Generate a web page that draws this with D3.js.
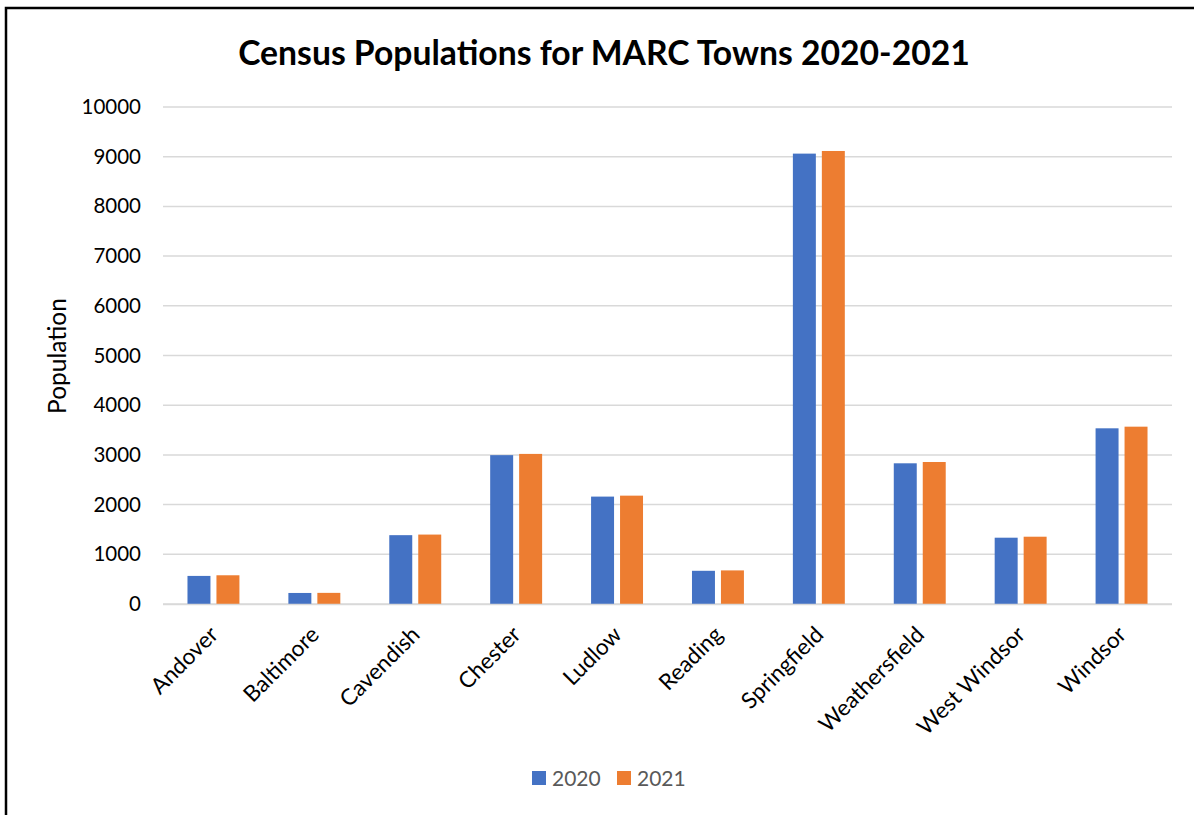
<!DOCTYPE html>
<html>
<head>
<meta charset="utf-8">
<script src="https://cdn.jsdelivr.net/npm/d3@7"></script>
<style>
  body { margin: 0; background: #fff; }
  text { font-family: Lato, "Open Sans", sans-serif; }
</style>
</head>
<body>
<div id="container"></div>
<script>
var towns = ["Andover", "Baltimore", "Cavendish", "Chester", "Ludlow", "Reading",
             "Springfield", "Weathersfield", "West Windsor", "Windsor"];
var pop2020 = [565, 222, 1385, 2995, 2161, 668, 9062, 2831, 1334, 3535];
var pop2021 = [578, 224, 1397, 3020, 2180, 676, 9115, 2857, 1354, 3568];
var years = ["2020", "2021"];
var colors = ["#4472c4", "#ed7d31"];
var yTicks = [0, 1000, 2000, 3000, 4000, 5000, 6000, 7000, 8000, 9000, 10000];

function render() {
	var width = 1194, height = 815;
	var svg = d3.select("#container").append("svg")
		.attr("width", width)
		.attr("height", height);

	// outer frame
	svg.append("rect")
		.attr("x", 6).attr("y", 8)
		.attr("width", 1200).attr("height", 820)
		.attr("fill", "#fff")
		.attr("stroke", "#000")
		.attr("stroke-width", 2.5);

	var x = d3.scaleBand().domain(towns).range([163, 1172]);
	var x1 = d3.scaleBand().domain(years).range([0, x.bandwidth()])
		.paddingInner(0.207).paddingOuter(0.845);
	var y = d3.scaleLinear().domain([0, 10000]).range([604, 107]);

	// gridlines
	svg.append("g")
		.selectAll("line")
		.data(yTicks)
		.enter().append("line")
		.attr("x1", 163).attr("x2", 1172)
		.attr("y1", d => y(d)).attr("y2", d => y(d))
		.attr("stroke", "#d9d9d9")
		.attr("stroke-width", 1.5);

	// y labels
	var yAxis = svg.append("g")
		.attr("transform", "translate(141,0)")
		.call(d3.axisLeft(y).tickValues(yTicks).tickSize(0).tickPadding(0).tickFormat(d3.format("d")));
	yAxis.select(".domain").remove();
	yAxis.selectAll("text")
		.attr("font-size", 20.5)
		.attr("fill", "#000")
		.style("font-family", "Lato, sans-serif");

	// bars
	var series = [pop2020, pop2021];
	var groups = svg.append("g")
		.selectAll("g")
		.data(towns)
		.enter().append("g")
		.attr("transform", d => "translate(" + x(d) + ",0)");

	groups.selectAll("rect")
		.data((d, i) => years.map((yr, j) => ({ yr: yr, v: series[j][i], c: colors[j] })))
		.enter().append("rect")
		.attr("x", d => x1(d.yr))
		.attr("width", x1.bandwidth())
		.attr("y", d => y(d.v))
		.attr("height", d => 604 - y(d.v))
		.attr("fill", d => d.c);

	// x axis line
	svg.append("line")
		.attr("x1", 163).attr("x2", 1172)
		.attr("y1", 604.5).attr("y2", 604.5)
		.attr("stroke", "#d9d9d9").attr("stroke-width", 1.5);

	// x labels rotated
	svg.append("g")
		.selectAll("text")
		.data(towns)
		.enter().append("text")
		.attr("transform", d => "translate(" + (x(d) + x.bandwidth() / 2 + 6) + ",636) rotate(-45)")
		.attr("text-anchor", "end")
		.attr("font-size", 22.5)
		.attr("fill", "#000")
		.text(d => d);

	// title
	svg.append("text")
		.attr("x", 604).attr("y", 65)
		.attr("text-anchor", "middle")
		.attr("font-size", 33.7)
		.attr("font-weight", "bold")
		.attr("fill", "#000")
		.text("Census Populations for MARC Towns 2020-2021");

	// y axis title
	svg.append("text")
		.attr("transform", "translate(66,356) rotate(-90)")
		.attr("text-anchor", "middle")
		.attr("font-size", 24.5)
		.attr("fill", "#000")
		.text("Population");

	// legend
	var legend = svg.append("g")
		.selectAll("g")
		.data(years)
		.enter().append("g")
		.attr("transform", (d, i) => "translate(" + (532 + i * 85) + ",771)");
	legend.append("rect")
		.attr("width", 14).attr("height", 14)
		.attr("fill", (d, i) => colors[i]);
	legend.append("text")
		.attr("x", 20).attr("y", 14.5)
		.attr("font-size", 21)
		.attr("fill", "#595959")
		.text(d => d);
}

render();
</script>
</body>
</html>
